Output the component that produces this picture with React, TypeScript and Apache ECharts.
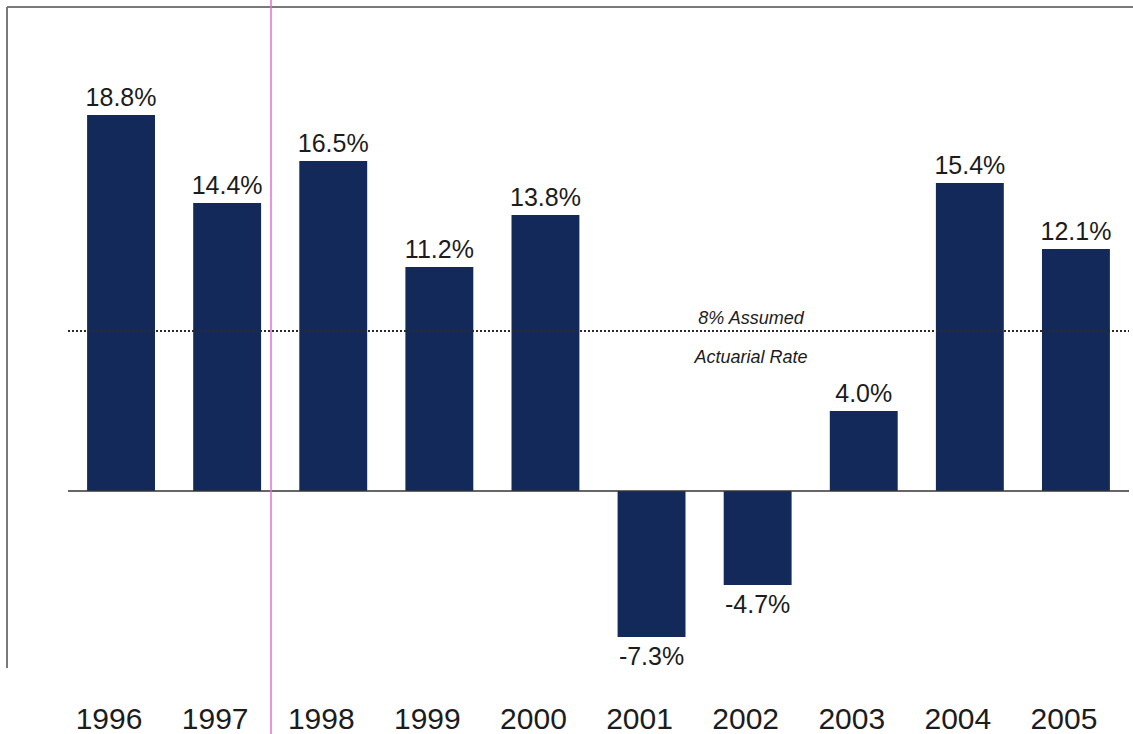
import React, { useEffect, useRef } from "react";
import * as echarts from "echarts";

// Annual fund returns (%)
const years = ["1996", "1997", "1998", "1999", "2000", "2001", "2002", "2003", "2004", "2005"];
const returns = [18.8, 14.4, 16.5, 11.2, 13.8, -7.3, -4.7, 4.0, 15.4, 12.1];
const assumedRate = 8;
const rateNoteTop = "8% Assumed";
const rateNoteBottom = "Actuarial Rate";

const BAR = "#13295a";
const INK = "#1c1c1c";
const FONT = "'Liberation Sans', Arial, sans-serif";

export default function App() {
  const ref = useRef<HTMLDivElement>(null);

  useEffect(() => {
    if (!ref.current) return;
    const chart = echarts.init(ref.current, null, { renderer: "svg" });

    const data = returns.map((v) => ({
      value: v,
      label: { position: v < 0 ? "bottom" : "top" },
    }));

    chart.setOption({
      animation: false,
      backgroundColor: "#ffffff",
      textStyle: { fontFamily: FONT },
      grid: { left: 68, right: 4, top: 51, bottom: 83 },
      xAxis: {
        type: "category",
        data: years,
        axisLine: { show: false, onZero: false },
        axisTick: { show: false },
        axisLabel: {
          fontSize: 30,
          color: INK,
          fontFamily: FONT,
          margin: 52,
          padding: [0, 24, 0, 0],
        },
      },
      yAxis: {
        type: "value",
        min: -8,
        max: 22,
        interval: 2,
        show: false,
        splitLine: { show: false },
      },
      series: [
        {
          type: "bar",
          data,
          barCategoryGap: "36%",
          itemStyle: { color: BAR },
          label: {
            show: true,
            fontSize: 25,
            lineHeight: 25,
            color: INK,
            fontFamily: FONT,
            distance: 6,
            formatter: (p: any) => `${Number(p.value).toFixed(1)}%`,
          },
          markLine: {
            silent: true,
            symbol: "none",
            label: { show: false },
            data: [
              { yAxis: 0, lineStyle: { type: "solid", color: "#333", width: 1.5 } },
              { yAxis: assumedRate, lineStyle: { type: [2, 2], color: "#2a2a2a", width: 2 } },
            ],
          },
          z: 2,
        },
      ],
      graphic: [
        {
          type: "line",
          shape: { x1: 7, y1: 7, x2: 1133, y2: 7 },
          style: { stroke: "#7a7a7a", lineWidth: 2 },
        },
        {
          type: "line",
          shape: { x1: 7, y1: 7, x2: 7, y2: 668 },
          style: { stroke: "#7a7a7a", lineWidth: 2 },
        },
        {
          type: "line",
          shape: { x1: 271, y1: 0, x2: 271, y2: 734 },
          style: { stroke: "#e070d6", lineWidth: 1.5 },
          z: 10,
        },
        {
          type: "text",
          x: 751,
          y: 318,
          style: {
            text: rateNoteTop,
            font: `italic 18px ${FONT}`,
            fill: INK,
            textAlign: "center",
            textVerticalAlign: "middle",
          },
        },
        {
          type: "text",
          x: 751,
          y: 357,
          style: {
            text: rateNoteBottom,
            font: `italic 18px ${FONT}`,
            fill: INK,
            textAlign: "center",
            textVerticalAlign: "middle",
          },
        },
      ],
    });

    return () => chart.dispose();
  }, []);

  return (
    <div
      ref={ref}
      style={{ position: "fixed", left: 0, top: 0, width: 1133, height: 734, background: "#fff" }}
    />
  );
}
